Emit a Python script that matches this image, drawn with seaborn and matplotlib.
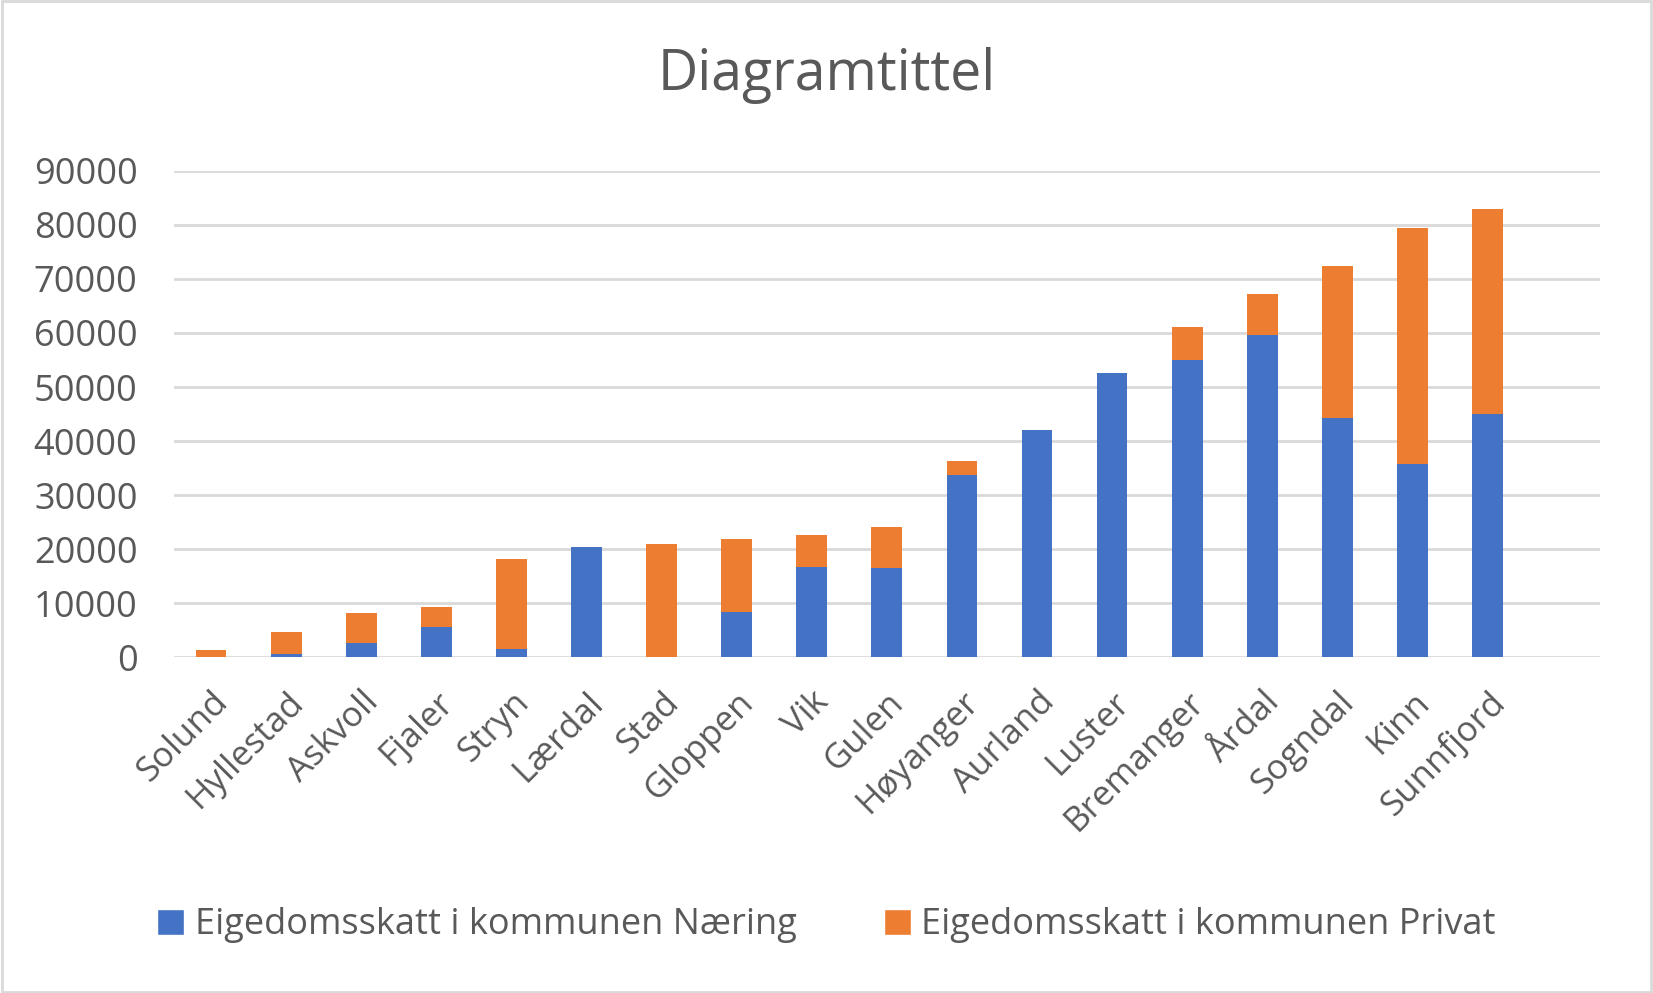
import numpy as np
import pandas as pd
import matplotlib
matplotlib.use("Agg")
import matplotlib.pyplot as plt
import seaborn as sns
from matplotlib.patches import Patch

kommunar = ["Solund", "Hyllestad", "Askvoll", "Fjaler", "Stryn", "Lærdal", "Stad",
            "Gloppen", "Vik", "Gulen", "Høyanger", "Aurland", "Luster", "Bremanger",
            "Årdal", "Sogndal", "Kinn", "Sunnfjord"]
naering = [0, 620, 2700, 5650, 1560, 20370, 0, 8450, 16750, 16550, 33800, 42090,
           52580, 55080, 59570, 44300, 35700, 45100]
privat = [1380, 4130, 5450, 3600, 16590, 0, 20980, 13400, 5830, 7510, 2500, 0,
          0, 6020, 7660, 28130, 43800, 37900]
serie_namn = ["Eigedomsskatt i kommunen Næring", "Eigedomsskatt i kommunen Privat"]

df = pd.DataFrame({"Kommune": kommunar, "Naering": naering, "Privat": privat})
df["Total"] = df["Naering"] + df["Privat"]

blaa = "#4472C4"
oransje = "#ED7D31"
tekst = "#595959"

sns.set_theme(style="white")
plt.rcParams["font.family"] = ["Open Sans", "DejaVu Sans"]

fig = plt.figure(figsize=(16.53, 9.93), dpi=100)
ax = fig.add_axes([0.105, 0.338, 0.863, 0.49])

# stabla: totalen i oransje, næring i blått oppå
sns.barplot(data=df, x="Kommune", y="Total", color=oransje, width=0.41,
            saturation=1, linewidth=0, ax=ax, zorder=2)
sns.barplot(data=df, x="Kommune", y="Naering", color=blaa, width=0.41,
            saturation=1, linewidth=0, ax=ax, zorder=3)

ax.set_xlim(-0.5, len(kommunar) + 0.5)
ax.set_ylim(0, 90000)
ax.set_yticks(np.arange(0, 90001, 10000))
ax.yaxis.grid(True, color="#D9D9D9", linewidth=2)
ax.set_axisbelow(True)
for s in ax.spines.values():
    s.set_visible(False)
ax.set_xlabel("")
ax.set_ylabel("")
ax.tick_params(axis="y", labelsize=26, colors=tekst, length=0, pad=26)
ax.tick_params(axis="x", labelsize=25, colors=tekst, length=0, pad=20)
plt.setp(ax.get_xticklabels(), rotation=45, ha="right", rotation_mode="anchor")

fig.text(0.5, 0.924, "Diagramtittel", ha="center", va="center", fontsize=40, color=tekst)

handles = [Patch(facecolor=blaa, label=serie_namn[0]),
           Patch(facecolor=oransje, label=serie_namn[1])]
fig.legend(handles=handles, loc="center", bbox_to_anchor=(0.5, 0.068), ncol=2,
           frameon=False, fontsize=26, labelcolor=tekst, handlelength=0.75,
           handleheight=0.75, handletextpad=0.3, columnspacing=2.4)

fig.patches.append(plt.Rectangle((0.001, 0.001), 0.998, 0.998, transform=fig.transFigure,
                                 fill=False, edgecolor="#D9D9D9", linewidth=2))

fig.savefig("out.png", dpi=100, facecolor="white")
